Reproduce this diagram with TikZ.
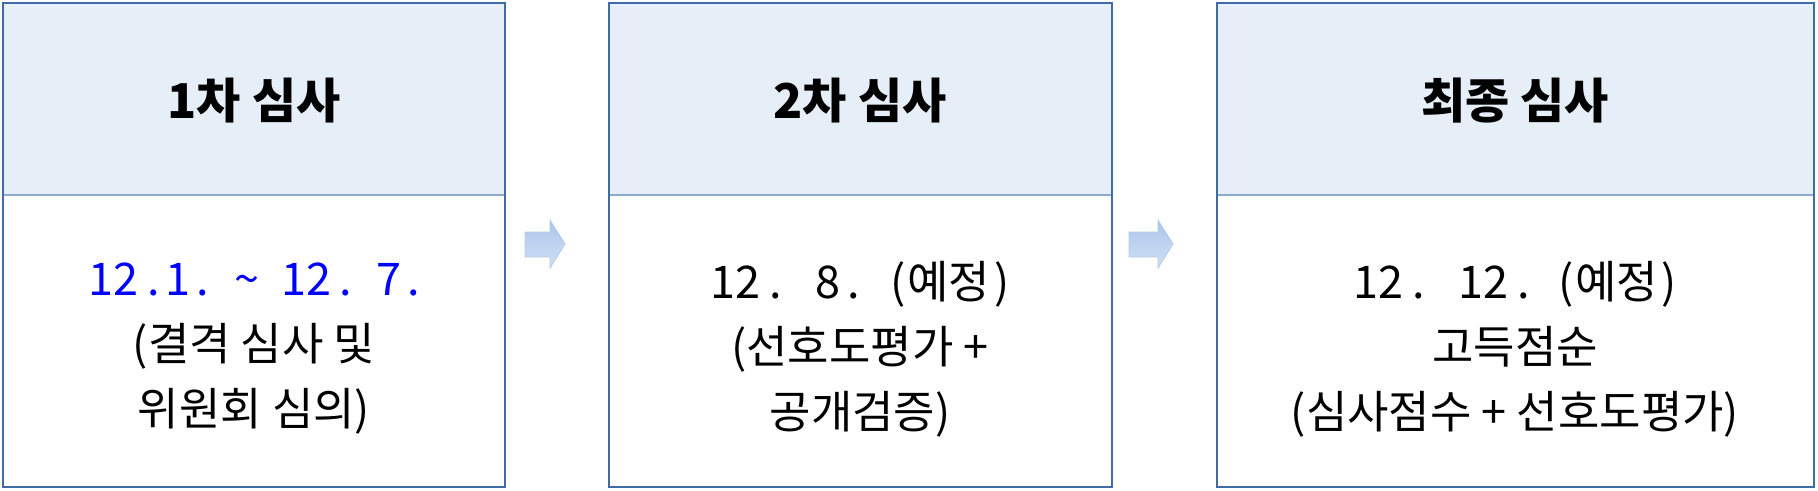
\documentclass[tikz,border=0pt]{standalone}
\usepackage{fontspec}
\setmainfont{Noto Sans CJK KR}
\usetikzlibrary{shadings}
\definecolor{frame}{HTML}{3F6BA6}
\definecolor{headfill}{HTML}{E6EEF8}
\definecolor{divider}{HTML}{8FAAD0}
\definecolor{arrowfill}{HTML}{A9C5EA}
\definecolor{arrowedge}{HTML}{B5CBE8}
\newcommand{\gp}[1]{\hspace{#1pt}}
\begin{document}
\begin{tikzpicture}[x=1pt,y=-1pt,
  headtext/.style={font=\bfseries\fontsize{48}{52}\selectfont, anchor=center},
  bodytext/.style={font=\fontsize{45}{65}\selectfont, align=center, anchor=center},
  panel/.style={draw=frame, line width=2.4pt},
  blockarrow/.style={draw=arrowedge, line width=0.8pt, top color=arrowfill, bottom color=arrowfill!55!white, middle color=arrowfill!75!white}]
\useasboundingbox (0,0) rectangle (1818,490);
% panel 1
\fill[headfill] (3,3) rectangle (505,195);
\draw[divider, line width=1.2pt] (3,195) -- (505,195);
\draw[panel] (3,3) rectangle (505,487);
\node[headtext] (h1) at (254,101) {1차 심사};
\node[bodytext] (b1) at (254,349) {\textcolor{blue}{12\gp{9}.\gp{6}1\gp{6}.\gp{26}\textasciitilde\gp{22}12\gp{8}.\gp{24}7\gp{6}.}\\(결격 심사 및\\위원회 심의)};
% panel 2
\fill[headfill] (609,3) rectangle (1112,195);
\draw[divider, line width=1.2pt] (609,195) -- (1112,195);
\draw[panel] (609,3) rectangle (1112,487);
\node[headtext] (h2) at (860,101) {2차 심사};
\node[bodytext] (b2) at (860,349) {12\gp{9}.\gp{34}8\gp{7}.\gp{30}(\gp{2}예정\gp{4})\\(선호도평가 +\\공개검증)};
% panel 3
\fill[headfill] (1217,3) rectangle (1814,195);
\draw[divider, line width=1.2pt] (1217,195) -- (1814,195);
\draw[panel] (1217,3) rectangle (1814,487);
\node[headtext] (h3) at (1515,101) {최종 심사};
\node[bodytext] (b3) at (1515,349) {12\gp{9}.\gp{34}12\gp{9}.\gp{28}(\gp{2}예정\gp{3})\\고득점순\\(심사점수 + 선호도평가)};
% arrows
\path[blockarrow] (525,232) -- (550,232) -- (550,220) -- (565,244) -- (550,268) -- (550,257) -- (525,257) -- cycle;
\path[blockarrow] (1129,232) -- (1158,232) -- (1158,220) -- (1173,244) -- (1158,268) -- (1158,257) -- (1129,257) -- cycle;
\end{tikzpicture}
\end{document}
